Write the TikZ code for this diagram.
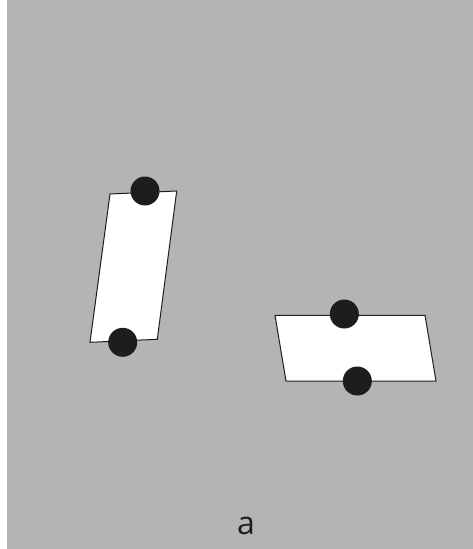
\documentclass[tikz,border=0pt]{standalone}
\usepackage{fontspec}
\setmainfont{Open Sans}
\definecolor{panelgray}{RGB}{180,180,178}
\definecolor{dotblack}{RGB}{29,29,27}
\begin{document}
\begin{tikzpicture}[x=1pt,y=-1pt,
  plate/.style={draw=dotblack,fill=white,line width=1pt},
  pin/.style={circle,fill=dotblack,inner sep=0pt,minimum size=29pt}]
  \useasboundingbox (0,0) rectangle (473,549);
  \fill[white] (0,0) rectangle (7,549);
  \fill[panelgray] (7,0) rectangle (473,549);
  % tall plate
  \draw[plate] (110,194) -- (176.7,191) -- (157.3,339.3) -- (90,342.3) -- cycle;
  \node[pin] (p1) at (145,191) {};
  \node[pin] (p2) at (122.7,342.3) {};
  % wide plate
  \draw[plate] (275,315.3) -- (425,315.3) -- (436,381) -- (286,381) -- cycle;
  \node[pin] (p3) at (344.3,314) {};
  \node[pin] (p4) at (357.3,381) {};
  \node[font=\fontsize{32}{36}\selectfont,text=dotblack] (lbl) at (246,526) {a};
\end{tikzpicture}
\end{document}
